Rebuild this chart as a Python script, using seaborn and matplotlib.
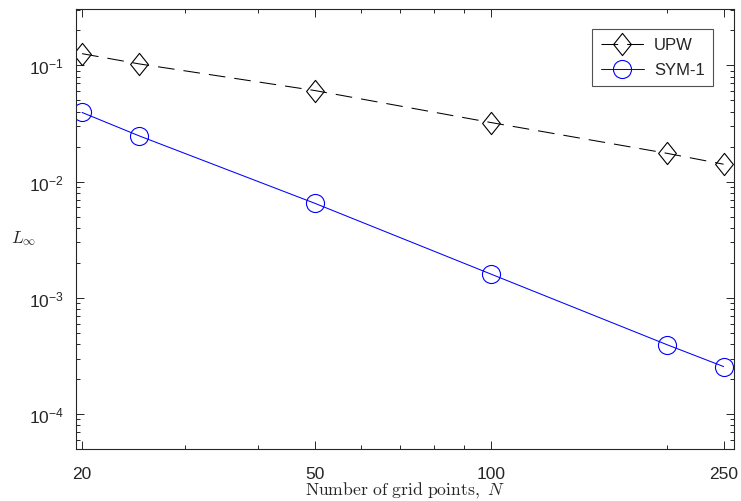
import matplotlib
matplotlib.use("Agg")
import matplotlib.pyplot as plt
import matplotlib.ticker as mticker
from matplotlib.path import Path
import numpy as np
import pandas as pd
import seaborn as sns

# Grid resolutions and max-norm errors for the two schemes
grid_points = [20, 25, 50, 100, 200, 250]
err_upw = [0.126, 0.103, 0.0607, 0.0322, 0.0175, 0.0141]
err_sym1 = [0.0393, 0.0248, 0.0065, 0.0016, 0.000395, 0.000256]
methods = ["UPW", "SYM-1"]
x_tick_values = [20, 50, 100, 250]

df = pd.DataFrame({
    "N": grid_points * 2,
    "err": err_upw + err_sym1,
    "method": [methods[0]] * len(grid_points) + [methods[1]] * len(grid_points),
})

sns.set_theme(style="ticks")
plt.rcParams["font.family"] = ["Liberation Sans", "DejaVu Sans"]
plt.rcParams["mathtext.fontset"] = "cm"
plt.rcParams["lines.scale_dashes"] = False

# slightly tall diamond marker
diamond = Path([(0, 1), (0.8, 0), (0, -1), (-0.8, 0), (0, 1)],
               [Path.MOVETO, Path.LINETO, Path.LINETO, Path.LINETO, Path.CLOSEPOLY])

fig = plt.figure(figsize=(7.41, 5.02), dpi=100)
ax = fig.add_axes([0.1026, 0.1036, 0.8880, 0.8764])

palette = {"UPW": "black", "SYM-1": "#0000ff"}
sns.lineplot(
    data=df, x="N", y="err", hue="method", style="method",
    hue_order=methods, style_order=methods,
    palette=palette,
    markers={"UPW": diamond, "SYM-1": "o"},
    dashes={"UPW": (12, 6.5), "SYM-1": ""},
    markersize=13, markerfacecolor="none", markeredgewidth=0.8,
    linewidth=0.75, ax=ax, legend=False,
)
msize = {"UPW": 16, "SYM-1": 13}
for ln, m in zip(ax.lines, methods):
    ln.set_markeredgecolor(palette[m])
    ln.set_markerfacecolor("none")
    ln.set_markersize(msize[m])
    ln.set_label(m)

ax.set_xscale("log")
ax.set_yscale("log")
ax.set_xlim(19.53, 260.5)
ax.set_ylim(5.0e-5, 0.305)

ax.xaxis.set_major_locator(mticker.FixedLocator(x_tick_values))
ax.xaxis.set_major_formatter(mticker.FixedFormatter([str(v) for v in x_tick_values]))
ax.xaxis.set_minor_locator(mticker.FixedLocator([30, 40, 60, 70, 80, 90, 200]))
ax.xaxis.set_minor_formatter(mticker.NullFormatter())
ax.yaxis.set_major_locator(mticker.LogLocator(base=10, numticks=10))
ax.yaxis.set_minor_locator(mticker.LogLocator(base=10, subs=np.arange(2, 10), numticks=20))
ax.yaxis.set_minor_formatter(mticker.NullFormatter())

spine_col = "#262626"
for s in ax.spines.values():
    s.set_visible(True)
    s.set_color(spine_col)
    s.set_linewidth(0.8)
ax.tick_params(which="both", direction="in", top=True, right=True,
               color=spine_col, width=0.7, labelsize=12.5, labelcolor="#262626")
ax.tick_params(which="major", length=5.5)
ax.tick_params(which="minor", length=3)
ax.tick_params(axis="x", which="major", pad=12)
ax.tick_params(axis="y", which="major", pad=9)

ax.set_xlabel(r"$\mathrm{Number\ of\ grid\ points,}\ N$", fontsize=12.7, color="#262626")
ax.set_ylabel(r"$L_\infty$", fontsize=12.5, rotation=0, color="#262626")
ax.xaxis.set_label_coords(0.5, -0.07)
ax.yaxis.set_label_coords(-0.079, 0.46)

leg = ax.legend(loc="upper right", bbox_to_anchor=(0.968, 0.9545), fontsize=12,
                frameon=True, fancybox=False, handlelength=2.6,
                borderpad=0.5, labelspacing=0.6, handletextpad=0.6,
                borderaxespad=0)
leg.get_frame().set_edgecolor(spine_col)
leg.get_frame().set_linewidth(0.8)

fig.savefig("out.png", dpi=100)
